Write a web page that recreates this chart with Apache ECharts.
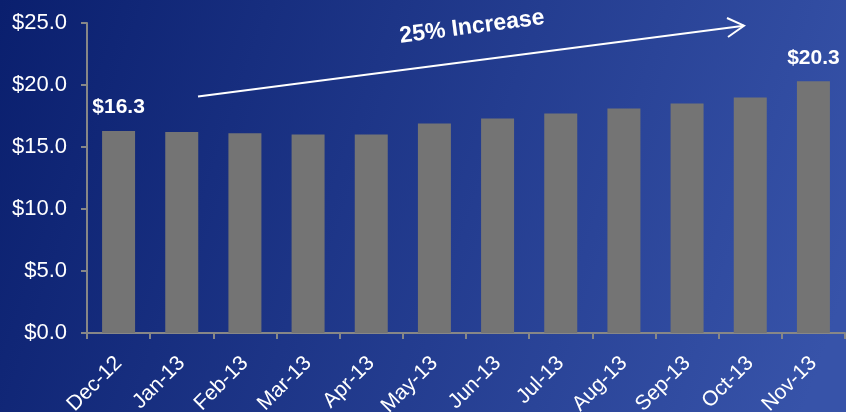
<!DOCTYPE html>
<html>
<head>
<meta charset="utf-8">
<script src="https://cdn.jsdelivr.net/npm/echarts@6/dist/echarts.min.js"></script>
<style>html,body{margin:0;padding:0;}#c{width:846px;height:412px;}</style>
</head>
<body>
<div id="c"></div>
<script>
const categories = ['Dec-12','Jan-13','Feb-13','Mar-13','Apr-13','May-13','Jun-13','Jul-13','Aug-13','Sep-13','Oct-13','Nov-13'];
const values = [16.3, 16.2, 16.1, 16.0, 16.0, 16.9, 17.3, 17.7, 18.1, 18.5, 19.0, 20.3];
const labeledIndexes = [0, 11];
const annotationText = '25% Increase';

const font = '"Liberation Sans", Arial, sans-serif';
const chart = echarts.init(document.getElementById('c'));
const barData = values.map((v, i) => labeledIndexes.includes(i) ? {
  value: v,
  label: { show: true, position: 'top', distance: 13, formatter: p => '$' + p.value.toFixed(1),
    color: '#ffffff', fontSize: 21, fontWeight: 'bold', fontFamily: font }
} : v);

chart.setOption({
  backgroundColor: { type: 'linear', x: 0, y: 0, x2: 1, y2: 0.7,
    colorStops: [{ offset: 0, color: '#0a1f6e' }, { offset: 1, color: '#3753a9' }] },
  animation: false,
  grid: { left: 87, right: 1, top: 23, bottom: 79, containLabel: false, outerBoundsMode: 'none' },
  xAxis: {
    type: 'category', data: categories,
    axisLine: { lineStyle: { color: '#878787', width: 2 } },
    axisTick: { show: true, length: 6, lineStyle: { color: '#878787', width: 2 } },
    axisLabel: { rotate: 45, color: '#ffffff', fontSize: 21, fontFamily: font, margin: 27, interval: 0 }
  },
  yAxis: {
    type: 'value', min: 0, max: 25, interval: 5,
    axisLine: { show: true, lineStyle: { color: '#878787', width: 2 } },
    axisTick: { show: true, length: 6, lineStyle: { color: '#878787', width: 2 } },
    splitLine: { show: false },
    axisLabel: { color: '#ffffff', fontSize: 22, fontFamily: font, margin: 20,
      formatter: v => '$' + v.toFixed(1) }
  },
  series: [{
    type: 'bar', data: barData, barWidth: 33,
    itemStyle: { color: '#747474' }
  }],
  graphic: [
    { type: 'line', shape: { x1: 198, y1: 96.5, x2: 744, y2: 25.7 },
      style: { stroke: '#ffffff', lineWidth: 2 } },
    { type: 'polyline', shape: { points: [[727, 18], [744, 25.7], [728, 37]] },
      style: { stroke: '#ffffff', lineWidth: 2, fill: null } },
    { type: 'text', x: 472, y: 27, rotation: 7.4 * Math.PI / 180,
      style: { text: annotationText, fill: '#ffffff', font: 'bold 23px ' + font,
        textAlign: 'center', textVerticalAlign: 'middle' } }
  ]
});
</script>
</body>
</html>
